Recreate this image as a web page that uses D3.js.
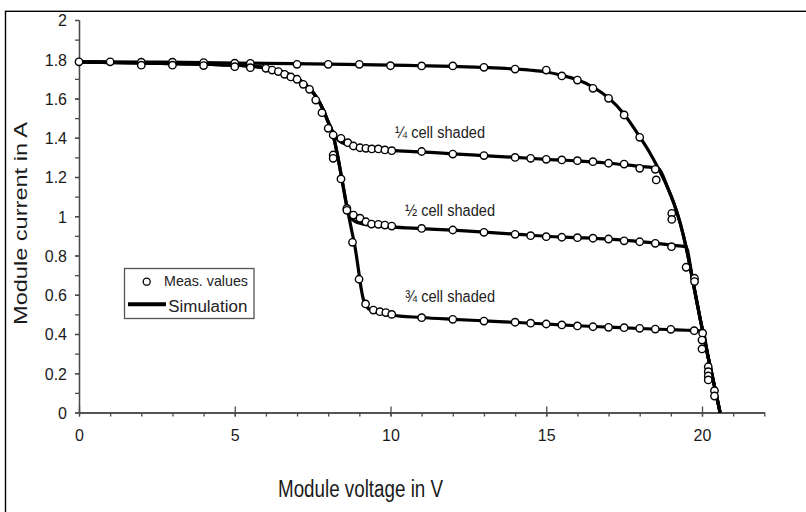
<!DOCTYPE html>
<html>
<head>
<meta charset="utf-8">
<script src="https://cdn.jsdelivr.net/npm/d3@7"></script>
<style>
  body { margin: 0; background: #fff; }
  svg { display: block; font-family: "Liberation Sans", Arial, sans-serif; }
  .axis path, .axis line { stroke: #4a4a4a; stroke-width: 1.3; }
  .axis text { font-size: 16px; fill: #1a1a1a; }
</style>
</head>
<body>
<div id="chart"></div>
<script>
// tick values
const voltTicks = [0, 5, 10, 15, 20];
const voltMinor = d3.range(0, 23);
const currentTicks = [0, 0.2, 0.4, 0.6, 0.8, 1, 1.2, 1.4, 1.6, 1.8, 2];
const currentMinor = d3.range(0, 21).map(d => d / 10);

const shadeLabels = ["¼ cell shaded", "½ cell shaded", "¾ cell shaded"];
const legendLabels = ["Meas. values", "Simulation"];

// simulation curves, [voltage V, current A]
const simFull = [[0,1.788],[2,1.786],[4,1.783],[6,1.779],[8,1.775],[10,1.77],[11,1.767],[12,1.764],
  [13,1.758],[14,1.75],[14.5,1.744],[15,1.735],[15.5,1.718],[16,1.695],[16.5,1.658],[17,1.603],
  [17.5,1.52],[18,1.405],[18.3,1.33],[18.6,1.243],[18.9,1.145],[19.1,1.065],[19.3,0.965],
  [19.5,0.835],[19.7,0.675],[19.95,0.47],[20.2,0.28],[20.4,0.135],[20.58,0]];
const simShadedHead = [[0,1.786],[2,1.781],[4,1.775],[5,1.77],[5.5,1.765],[6,1.756],[6.5,1.738],
  [7,1.703],[7.3,1.668],[7.6,1.612],[7.85,1.54],[8,1.48],[8.1,1.445]];
const simQuarter = [[8.2,1.41],[8.35,1.385],[8.6,1.365],[9,1.35],[9.5,1.343],[10,1.336],[11,1.328],
  [12,1.318],[13,1.309],[14,1.3],[15,1.29],[16,1.282],[17,1.27],[17.5,1.263],[18,1.254],[18.6,1.243],
  [18.9,1.145],[19.1,1.065],[19.3,0.965],[19.5,0.835],[19.7,0.675],[19.95,0.47],[20.2,0.28],
  [20.4,0.135],[20.58,0]];
const simHalf = [[8.2,1.385],[8.3,1.31],[8.45,1.18],[8.6,1.05],[8.7,1.0],[8.85,0.975],[9.1,0.961],
  [9.5,0.953],[10,0.946],[11,0.937],[12,0.929],[13,0.919],[14,0.909],[15,0.898],[16,0.891],
  [17,0.883],[18,0.871],[18.5,0.863],[19,0.853],[19.48,0.845],[19.7,0.675],[19.95,0.47],
  [20.2,0.28],[20.4,0.135],[20.58,0]];
const simThreeQuarter = [[8.2,1.385],[8.3,1.31],[8.45,1.18],[8.6,1.05],[8.75,0.93],[8.86,0.845],
  [8.96,0.74],[9.05,0.64],[9.15,0.565],[9.3,0.528],[9.6,0.51],[10,0.497],[11,0.484],[12,0.475],
  [13,0.467],[14,0.459],[15,0.451],[16,0.442],[17,0.435],[18,0.428],[19,0.422],[19.5,0.419],
  [20.02,0.415],[20.2,0.28],[20.4,0.135],[20.58,0]];

// measured values, [voltage V, current A]
const measFull = [[0,1.787],[1,1.787],[2,1.785],[3,1.785],[4,1.783],[5,1.78],[5.5,1.779],[7,1.774],
  [8,1.774],[9,1.774],[10,1.767],[11,1.766],[12,1.766],[13,1.759],[14,1.75],[15,1.745],[15.5,1.715],
  [16,1.694],[16.5,1.652],[17,1.601],[17.5,1.516],[18,1.402],[19.03,1.015],[19.76,0.684],
  [20.02,0.404],[20.2,0.233],[20.4,0.111]];
const measQuarter = [[2,1.77],[3,1.77],[4,1.768],[5,1.762],[5.5,1.757],[6,1.754],[6.2,1.745],
  [6.4,1.737],[6.6,1.723],[6.8,1.71],[7,1.698],[7.2,1.672],[7.4,1.647],[7.6,1.592],[7.8,1.528],
  [8,1.448],[8.16,1.414],[8.41,1.397],[8.63,1.375],[8.81,1.358],[9.02,1.349],[9.21,1.346],
  [9.4,1.343],[9.61,1.343],[9.82,1.338],[10.04,1.334],[11,1.33],[12,1.317],[13,1.309],[14,1.3],
  [14.5,1.295],[15,1.29],[15.5,1.287],[16,1.283],[16.5,1.278],[17,1.27],[17.5,1.266],[18,1.244],
  [18.5,1.239],[18.53,1.185],[19.03,0.984]];
const measHalf = [[8.16,1.312],[8.41,1.19],[8.6,1.04],[8.81,1.006],[9.02,0.99],[9.21,0.972],
  [9.39,0.96],[9.61,0.959],[9.82,0.955],[10.04,0.95],[11,0.938],[12,0.93],[13,0.918],[14,0.908],
  [14.5,0.901],[15,0.896],[15.5,0.893],[16,0.891],[16.5,0.888],[17,0.884],[17.5,0.875],[18,0.87],
  [18.5,0.862],[19.02,0.845],[19.49,0.74],[19.76,0.667]];
const measThreeQuarter = [[8.16,1.295],[8.6,1.03],[8.78,0.867],[8.99,0.679],[9.2,0.553],[9.45,0.522],
  [9.66,0.514],[9.85,0.509],[10.04,0.5],[11,0.483],[12,0.475],[13,0.466],[14,0.46],[14.5,0.455],
  [15,0.451],[15.5,0.446],[16,0.441],[16.5,0.437],[17,0.434],[17.5,0.432],[18,0.429],[18.5,0.425],
  [19,0.424],[19.75,0.417],[20,0.369],[20,0.324],[20.2,0.208],[20.2,0.186],[20.2,0.166],[20.4,0.084]];

const W = 806, H = 512;
const svg = d3.select("#chart").append("svg").attr("width", W).attr("height", H);

// picture frame (only left and top edges are visible)
svg.append("rect")
  .attr("x", 5.5).attr("y", 11.3).attr("width", 900).attr("height", 600)
  .attr("fill", "none").attr("stroke", "#000").attr("stroke-width", 1.4);

const x = d3.scaleLinear().domain([0, 22]).range([79, 764.3]);
const y = d3.scaleLinear().domain([0, 2]).range([412.5, 20]);

// axes
const yAxis = svg.append("g").attr("class", "axis").attr("transform", `translate(${x(0)},0)`)
  .call(d3.axisLeft(y).tickValues(currentTicks).tickSize(4).tickSizeOuter(0).tickPadding(8)
    .tickFormat(d3.format("~g")));
svg.append("g").attr("class", "axis").attr("transform", `translate(${x(0)},0)`)
  .call(d3.axisLeft(y).tickValues(currentMinor).tickSize(4).tickSizeOuter(0).tickFormat(""));
yAxis.selectAll("text").attr("dy", "0.36em");

const xAxis = svg.append("g").attr("class", "axis").attr("transform", `translate(0,${y(0)})`)
  .call(d3.axisBottom(x).tickValues(voltTicks).tickSize(4).tickSizeOuter(0).tickPadding(13));
svg.append("g").attr("class", "axis").attr("transform", `translate(0,${y(0)})`)
  .call(d3.axisBottom(x).tickValues(voltMinor).tickSize(4).tickSizeOuter(0).tickFormat(""));
// major x ticks also poke above the axis
xAxis.selectAll(".tick").append("line").attr("y1", -6).attr("y2", 0).attr("stroke", "#4a4a4a");
svg.selectAll(".axis .domain").attr("stroke-width", 1.5);

// axis titles
svg.append("text")
  .attr("transform", "translate(26.5,223.5) rotate(-90)")
  .attr("text-anchor", "middle")
  .attr("font-size", 17.5).attr("fill", "#1a1a1a")
  .attr("textLength", 203).attr("lengthAdjust", "spacingAndGlyphs")
  .text("Module current in A");
svg.append("text")
  .attr("x", 360.5).attr("y", 496.5)
  .attr("text-anchor", "middle")
  .attr("font-size", 23).attr("fill", "#1a1a1a")
  .attr("textLength", 165).attr("lengthAdjust", "spacingAndGlyphs")
  .text("Module voltage in V");

// simulation lines
const line = d3.line().x(d => x(d[0])).y(d => y(d[1])).curve(d3.curveMonotoneX);
const simSeries = [
  simFull,
  simShadedHead.concat(simQuarter),
  simShadedHead.concat(simHalf),
  simShadedHead.concat(simThreeQuarter)
];
svg.append("g").selectAll("path")
  .data(simSeries)
  .join("path")
    .attr("d", line)
    .attr("fill", "none")
    .attr("stroke", "#000")
    .attr("stroke-width", 3.2)
    .attr("stroke-linejoin", "round");

// measured points
const measPoints = [].concat(measFull, measQuarter, measHalf, measThreeQuarter);
svg.append("g").selectAll("circle")
  .data(measPoints)
  .join("circle")
    .attr("cx", d => x(d[0]))
    .attr("cy", d => y(d[1]))
    .attr("r", 3.7)
    .attr("fill", "#fff")
    .attr("stroke", "#000")
    .attr("stroke-width", 1.4);

// curve annotations
const labelPos = [[395, 137.5], [405, 216], [405, 302]];
svg.append("g").selectAll("text")
  .data(shadeLabels)
  .join("text")
    .attr("x", (d, i) => labelPos[i][0])
    .attr("y", (d, i) => labelPos[i][1])
    .attr("font-size", 16).attr("fill", "#222")
    .attr("textLength", 90).attr("lengthAdjust", "spacingAndGlyphs")
    .text(d => d);

// legend
const legend = svg.append("g");
legend.append("rect")
  .attr("x", 124.5).attr("y", 268.5).attr("width", 129.5).attr("height", 50)
  .attr("fill", "#fff").attr("stroke", "#555").attr("stroke-width", 1.3);
legend.append("circle")
  .attr("cx", 146.7).attr("cy", 281.7).attr("r", 3.5)
  .attr("fill", "#fff").attr("stroke", "#000").attr("stroke-width", 1.3);
legend.append("line")
  .attr("x1", 128).attr("x2", 166).attr("y1", 304.3).attr("y2", 304.3)
  .attr("stroke", "#000").attr("stroke-width", 4);
legend.append("text")
  .attr("x", 164).attr("y", 285.5)
  .attr("font-size", 15).attr("fill", "#222")
  .attr("textLength", 84).attr("lengthAdjust", "spacingAndGlyphs")
  .text(legendLabels[0]);
legend.append("text")
  .attr("x", 168.3).attr("y", 311.5)
  .attr("font-size", 16).attr("fill", "#222")
  .attr("textLength", 79).attr("lengthAdjust", "spacingAndGlyphs")
  .text(legendLabels[1]);
</script>
</body>
</html>
